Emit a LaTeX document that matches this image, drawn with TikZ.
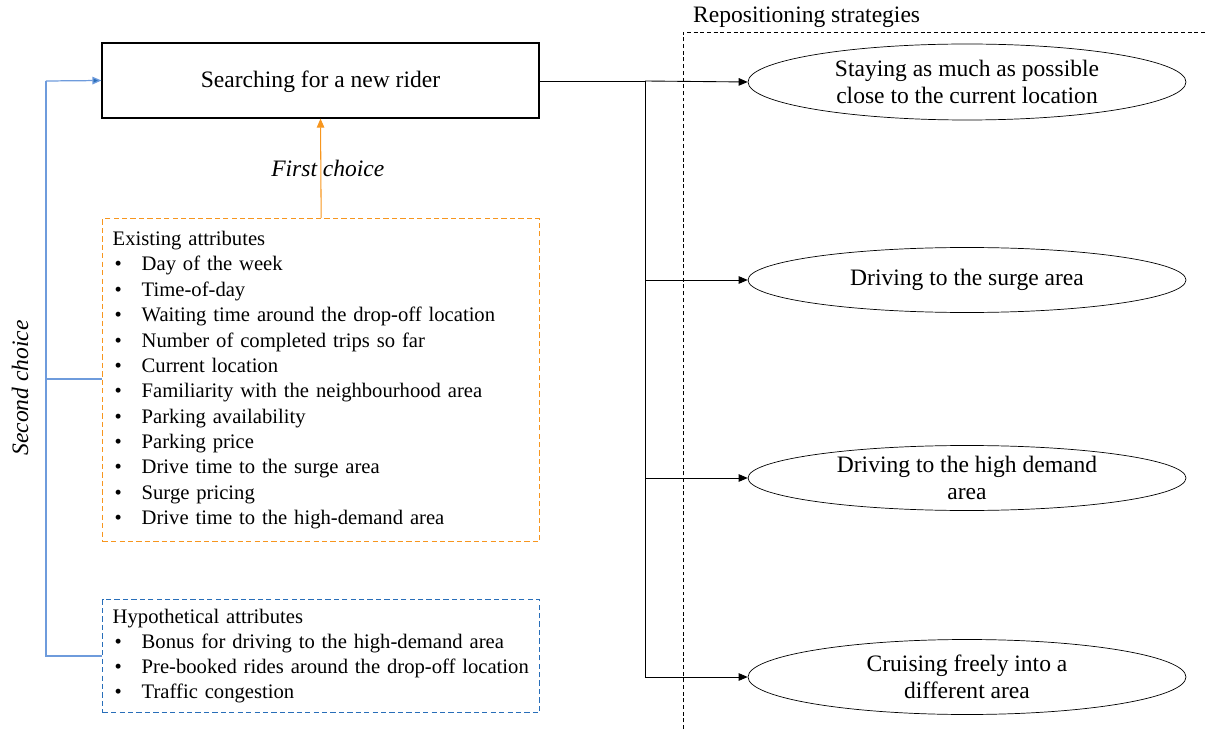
\documentclass[tikz,border=0pt]{standalone}
\usepackage{fontspec}
\setmainfont{Liberation Serif}
\usetikzlibrary{arrows.meta}
\usetikzlibrary{positioning,shapes.geometric}
\definecolor{attrorange}{RGB}{247,150,30}
\definecolor{attrblue}{RGB}{40,110,185}
\definecolor{choiceblue}{RGB}{110,155,220}
\hyphenpenalty=10000
\newcommand{\bul}{\makebox[0.58cm][l]{\hspace{0.04cm}\textbullet}}
\tikzset{
    every node/.style={font=\fontsize{13.4}{15.5}\selectfont},
    strategy/.style={
        draw,
        ellipse,
        minimum width=8.76cm,
        minimum height=1.5cm,
        inner sep=0pt,
        align=center
    },
    attrbox/.style={
        draw,
        dash pattern=on 3pt off 1.8pt,
        line width=0.8pt,
        minimum width=8.74cm,
        text width=8.34cm,
        inner xsep=0.2cm,
        align=left
    },
    link/.style={
        -{Triangle[length=1.8mm, width=1.5mm]},
        line width=0.5pt
    }
}

\begin{document}
\begin{tikzpicture}[x=0.02cm,y=-0.02cm]
  \useasboundingbox (0,0) rectangle (1206,729);

  % Main state
  \node[draw, line width=0.7pt, minimum width=8.74cm, minimum height=1.5cm, text height=2.4ex] (search) at (320.5,80.5) {Searching for a new rider};

  % Attribute boxes
  \node[attrbox, draw=attrorange, minimum height=6.46cm, anchor=north west,
        font=\fontsize{11.75}{14.45}\selectfont] (existing) at (102,218) {%
    Existing attributes\\
    \bul Day of the week\\
    \bul Time-of-day\\
    \bul Waiting time around the drop-off location\\
    \bul Number of completed trips so far\\
    \bul Current location\\
    \bul Familiarity with the neighbourhood area\\
    \bul Parking availability\\
    \bul Parking price\\
    \bul Drive time to the surge area\\
    \bul Surge pricing\\
    \bul Drive time to the high-demand area};
  \node[attrbox, draw=attrblue, minimum height=2.26cm, anchor=north west,
        font=\fontsize{11.75}{14.1}\selectfont] (hypo) at (102,599) {%
    Hypothetical attributes\\
    \bul Bonus for driving to the high-demand area\\
    \bul Pre-booked rides around the drop-off location\\
    \bul Traffic congestion};

  % Repositioning strategies frame
  \draw[dash pattern=on 2.2pt off 1.6pt, line width=0.4pt] (683,729) -- (683,32) -- (1206,32);
  \node[anchor=west] (frame) at (687,17) {Repositioning strategies};

  % Strategies
  \node[strategy, minimum height=1.52cm] (stay) at (967,82) {Staying as much as possible\\close to the current location};
  \node[strategy, minimum height=1.3cm] (surge) at (967,280) {Driving to the surge area};
  \node[strategy, minimum height=1.3cm] (demand) at (967,478) {Driving to the high demand\\area};
  \node[strategy, minimum height=1.5cm] (cruise) at (967,677) {Cruising freely into a\\different area};

  % Branching
  \coordinate (split) at (645,81);
  \coordinate (bend) at (645,677);
  \draw[line width=0.5pt] (search.east |- split) -- (split) -- (bend);
  \draw[link] (split) -- (stay.west);
  \draw[link] (surge.west -| split) -- (surge.west);
  \draw[link] (demand.west -| split) -- (demand.west);
  \draw[link] (bend) -- (cruise.west);

  % First choice
  \draw[link, attrorange, line width=0.6pt] (existing.north) -- (search.south)
    node[midway, xshift=0.14cm, text=black, font=\fontsize{13.4}{15.5}\selectfont\itshape] (first) {First choice};

  % Second choice
  \coordinate (top) at (46,81);
  \coordinate (mid) at (46,379);
  \coordinate (low) at (46,656);
  \draw[choiceblue, line width=0.7pt] (existing.west |- mid) -- (mid);
  \draw[choiceblue, line width=0.7pt] (hypo.west |- low) -- (low) -- (top);
  \draw[link, choiceblue, line width=0.7pt, -{Triangle[length=1.8mm, width=1.5mm, fill=attrblue]}] (top) -- (search.west);
  \node[rotate=90, font=\fontsize{13.4}{15.5}\selectfont\itshape] (second) at (20,388) {Second choice};
\end{tikzpicture}
\end{document}
